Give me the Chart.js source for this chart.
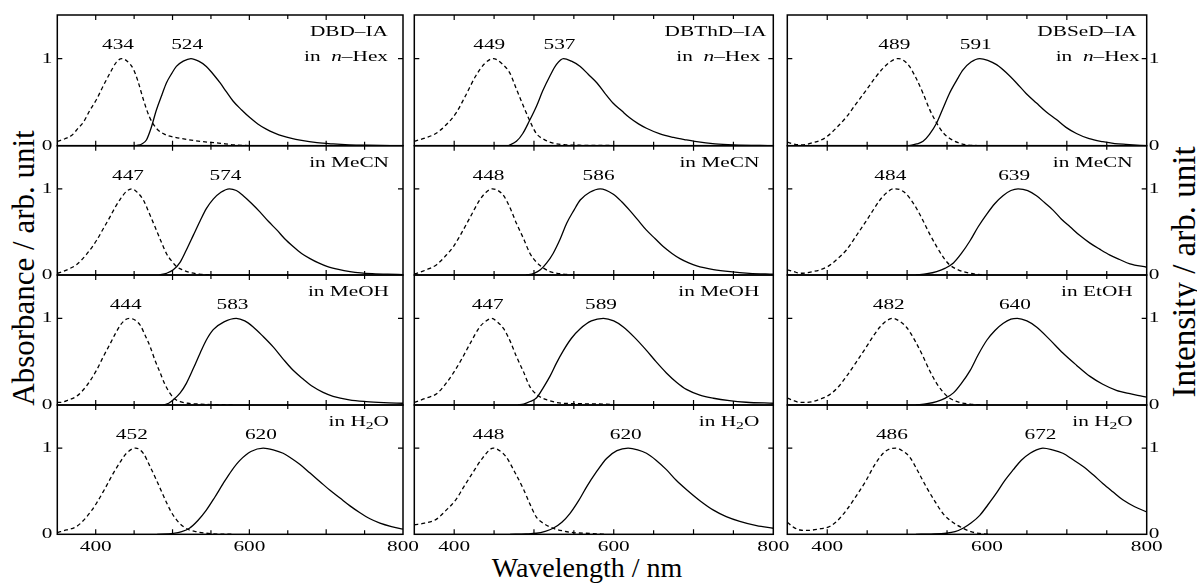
<!DOCTYPE html>
<html>
<head>
<meta charset="utf-8">
<script src="https://cdn.jsdelivr.net/npm/chart.js@4.4.0/dist/chart.umd.min.js"></script>
<style>
  body { margin: 0; background: #fff; }
  #wrap { position: relative; width: 1197px; height: 583px; overflow: hidden; }
  #wrap canvas { position: absolute; left: 0; top: 0; }
  .title { position: absolute; font-family: 'Liberation Serif', serif; color: #000; white-space: nowrap; line-height: 1; }
</style>
</head>
<body>
<div id="wrap">
  <div class="title" id="yLeft" style="font-size:31px; left:22.5px; top:268px; transform: translate(-50%,-50%) rotate(-90deg);">Absorbance / arb. unit</div>
  <div class="title" id="yRight" style="font-size:33px; left:1184px; top:272px; transform: translate(-50%,-50%) rotate(-90deg);">Intensity / arb. unit</div>
  <div class="title" id="xTitle" style="font-size:28px; left:587px; top:568px; transform: translate(-50%,-50%);">Wavelength / nm</div>
</div>
<script>
// Panel text
const compounds = ["DBD–IA", "DBThD–IA", "DBSeD–IA"];
const solvents = [
  ["n–Hex", "MeCN", "MeOH", "H2O"],
  ["n–Hex", "MeCN", "MeOH", "H2O"],
  ["n–Hex", "MeCN", "EtOH", "H2O"]
];
const absPeaks = [[434, 447, 444, 452], [449, 448, 447, 448], [489, 484, 482, 486]];
const emPeaks = [[524, 574, 583, 620], [537, 586, 589, 620], [591, 639, 640, 672]];
const xTickLabels = [400, 600, 800];
const yTickLabels = [0, 1];

// Absorption (dashed) and emission (solid) curves, [nm, normalised value]
// DBD-IA
const dbdHexAbs = [[350,0.05],[360,0.08],[369,0.12],[377,0.2],[384,0.27],[392,0.4],[401,0.53],[410,0.69],[419,0.84],[427,0.96],[434,1.0],[441,0.97],[449,0.88],[455,0.74],[462,0.53],[470,0.33],[479,0.2],[490,0.13],[501,0.1],[520,0.07],[536,0.05],[560,0.03],[580,0.01],[600,0]];
const dbdHexEm = [[453,0],[460,0.02],[466,0.065],[472,0.2],[479,0.41],[486,0.58],[492,0.72],[499,0.83],[505,0.91],[514,0.97],[524,1.0],[534,0.97],[544,0.91],[553,0.82],[562,0.72],[570,0.62],[579,0.51],[590,0.41],[601,0.32],[611,0.25],[622,0.19],[633,0.145],[644,0.11],[655,0.085],[666,0.065],[688,0.035],[709,0.02],[730,0.01],[752,0.005],[800,0]];
const dbdMecnAbs = [[350,0.02],[354,0.03],[365,0.07],[375,0.12],[388,0.24],[401,0.4],[410,0.54],[419,0.68],[425,0.78],[432,0.88],[440,0.97],[447,1.0],[454,0.96],[462,0.87],[470,0.71],[479,0.52],[486,0.37],[492,0.25],[499,0.16],[505,0.1],[513,0.06],[522,0.03],[535,0.01],[553,0]];
const dbdMecnEm = [[483,0],[492,0.02],[501,0.06],[510,0.15],[518,0.29],[527,0.46],[536,0.63],[544,0.77],[553,0.88],[563,0.96],[574,1.0],[583,0.98],[592,0.92],[603,0.83],[614,0.73],[625,0.62],[636,0.52],[646,0.42],[657,0.33],[668,0.25],[679,0.19],[690,0.14],[701,0.1],[716,0.065],[731,0.04],[745,0.025],[760,0.016],[780,0.009],[800,0.005]];
const dbdMeohAbs = [[350,0.03],[354,0.03],[365,0.06],[375,0.1],[388,0.22],[401,0.4],[410,0.56],[419,0.71],[426,0.83],[432,0.92],[438,0.98],[444,1.0],[451,0.98],[458,0.92],[464,0.81],[471,0.67],[477,0.52],[484,0.37],[490,0.24],[497,0.13],[503,0.07],[510,0.04],[520,0.02],[536,0.01],[579,0]];
const dbdMeohEm = [[488,0],[495,0.02],[501,0.06],[510,0.14],[518,0.25],[527,0.42],[536,0.6],[544,0.75],[553,0.87],[567,0.96],[583,1.0],[594,0.97],[605,0.9],[618,0.79],[631,0.67],[644,0.53],[657,0.4],[670,0.3],[683,0.21],[696,0.145],[709,0.1],[730,0.06],[752,0.04],[775,0.028],[800,0.02]];
const dbdWaterAbs = [[350,0.02],[362,0.05],[375,0.09],[388,0.2],[401,0.36],[412,0.53],[423,0.71],[432,0.84],[440,0.94],[452,1.0],[462,0.94],[470,0.8],[479,0.63],[488,0.45],[497,0.28],[505,0.17],[514,0.09],[522,0.05],[531,0.03],[553,0.005],[580,0]];
const dbdWaterEm = [[480,0],[501,0.01],[512,0.03],[522,0.07],[533,0.16],[544,0.28],[555,0.43],[566,0.59],[577,0.74],[588,0.86],[602,0.96],[618,1.0],[631,0.98],[644,0.94],[655,0.88],[666,0.81],[679,0.71],[692,0.61],[705,0.51],[718,0.42],[731,0.33],[744,0.25],[757,0.18],[770,0.13],[785,0.09],[800,0.06]];
// DBThD-IA
const dbthdHexAbs = [[350,0.05],[364,0.09],[377,0.14],[390,0.24],[402,0.37],[414,0.57],[427,0.8],[438,0.94],[449,1.0],[460,0.94],[470,0.83],[478,0.65],[487,0.45],[495,0.28],[503,0.14],[513,0.07],[524,0.03],[540,0.01],[557,0.005],[690,0]];
const dbthdHexEm = [[468,0],[478,0.05],[486,0.14],[494,0.28],[503,0.45],[511,0.63],[520,0.8],[528,0.93],[537,1.0],[547,0.97],[558,0.91],[568,0.82],[579,0.72],[589,0.6],[599,0.49],[610,0.4],[620,0.32],[631,0.25],[641,0.2],[658,0.135],[675,0.095],[690,0.068],[704,0.046],[727,0.022],[750,0.01],[800,0]];
const dbthdMecnAbs = [[350,0.01],[353,0.02],[365,0.06],[378,0.12],[389,0.22],[399,0.33],[410,0.5],[420,0.67],[432,0.87],[440,0.96],[448,1.0],[455,0.98],[462,0.92],[470,0.78],[478,0.6],[487,0.42],[495,0.25],[503,0.15],[512,0.08],[520,0.04],[529,0.02],[545,0.005],[557,0]];
const dbthdMecnEm = [[490,0],[500,0.02],[508,0.06],[516,0.14],[524,0.25],[533,0.42],[541,0.6],[550,0.75],[558,0.87],[570,0.96],[583,1.0],[599,0.94],[610,0.85],[620,0.75],[631,0.63],[641,0.52],[652,0.42],[662,0.33],[673,0.25],[683,0.19],[694,0.14],[704,0.105],[725,0.063],[746,0.038],[770,0.02],[800,0.01]];
const dbthdMeohAbs = [[350,0.03],[353,0.04],[365,0.08],[378,0.13],[389,0.24],[399,0.37],[410,0.54],[420,0.71],[432,0.9],[440,0.97],[447,1.0],[454,0.96],[462,0.88],[470,0.74],[478,0.56],[487,0.38],[495,0.21],[505,0.11],[516,0.06],[537,0.02],[591,0.01],[600,0]];
const dbthdMeohEm = [[480,0],[487,0.01],[495,0.04],[503,0.08],[511,0.19],[520,0.33],[528,0.48],[537,0.63],[547,0.77],[558,0.88],[572,0.97],[587,1.0],[600,0.97],[612,0.9],[626,0.78],[641,0.63],[653,0.5],[666,0.37],[679,0.26],[691,0.18],[708,0.115],[725,0.078],[745,0.05],[766,0.032],[800,0.02]];
const dbthdWaterAbs = [[350,0.11],[363,0.13],[377,0.17],[390,0.28],[402,0.4],[412,0.55],[423,0.71],[436,0.89],[449,1.0],[457,0.97],[465,0.9],[476,0.72],[487,0.52],[495,0.35],[503,0.2],[513,0.12],[524,0.07],[536,0.04],[549,0.02],[570,0.01],[591,0]];
const dbthdWaterEm = [[470,0],[490,0.005],[503,0.012],[514,0.035],[524,0.07],[535,0.14],[545,0.24],[556,0.39],[566,0.55],[578,0.72],[591,0.88],[604,0.97],[618,1.0],[630,0.98],[641,0.94],[653,0.86],[666,0.75],[678,0.63],[691,0.52],[708,0.39],[725,0.28],[741,0.205],[758,0.15],[779,0.1],[800,0.07]];
// DBSeD-IA
const dbsedHexAbs = [[350,0.04],[358,0.02],[366,0.01],[374,0.015],[382,0.035],[391,0.06],[399,0.1],[411,0.2],[424,0.33],[436,0.48],[449,0.64],[460,0.78],[470,0.89],[480,0.97],[489,1.0],[497,0.97],[503,0.91],[511,0.78],[520,0.6],[528,0.42],[537,0.26],[545,0.15],[553,0.085],[564,0.035],[574,0.01],[595,0]];
const dbsedHexEm = [[503,0],[512,0.02],[520,0.05],[528,0.13],[537,0.26],[545,0.43],[553,0.6],[562,0.75],[570,0.87],[580,0.96],[591,1.0],[601,0.98],[612,0.93],[624,0.84],[637,0.72],[649,0.6],[662,0.49],[674,0.39],[687,0.3],[699,0.21],[712,0.14],[728,0.08],[745,0.046],[760,0.025],[774,0.015],[800,0]];
const dbsedMecnAbs = [[350,0.06],[358,0.04],[366,0.02],[374,0.025],[382,0.04],[391,0.06],[401,0.1],[412,0.18],[424,0.29],[436,0.45],[449,0.63],[458,0.76],[466,0.87],[474,0.95],[483,1.0],[491,0.99],[499,0.94],[510,0.8],[520,0.63],[528,0.48],[537,0.33],[545,0.21],[553,0.12],[564,0.06],[574,0.03],[585,0.01],[595,0]];
const dbsedMecnEm = [[511,0],[525,0.015],[537,0.04],[548,0.08],[558,0.14],[568,0.25],[579,0.4],[589,0.56],[600,0.71],[610,0.83],[620,0.92],[630,0.98],[639,1.0],[651,0.98],[662,0.92],[672,0.84],[683,0.75],[693,0.65],[704,0.56],[716,0.46],[729,0.37],[741,0.3],[754,0.23],[766,0.18],[779,0.13],[800,0.09]];
const dbsedEtohAbs = [[350,0.08],[358,0.05],[366,0.03],[374,0.03],[382,0.04],[392,0.07],[403,0.12],[413,0.2],[424,0.33],[436,0.49],[449,0.67],[458,0.8],[466,0.9],[474,0.97],[482,1.0],[490,0.97],[499,0.9],[510,0.74],[520,0.56],[528,0.4],[537,0.25],[545,0.15],[553,0.08],[566,0.03],[579,0.01],[595,0]];
const dbsedEtohEm = [[511,0],[525,0.015],[537,0.04],[548,0.08],[558,0.14],[568,0.25],[579,0.4],[589,0.58],[600,0.75],[610,0.86],[620,0.94],[630,0.99],[638,1.0],[650,0.97],[662,0.9],[678,0.76],[695,0.6],[712,0.46],[729,0.33],[745,0.24],[762,0.17],[779,0.13],[795,0.1],[800,0.09]];
const dbsedWaterAbs = [[350,0.14],[358,0.08],[366,0.05],[374,0.045],[382,0.05],[392,0.065],[403,0.09],[413,0.16],[424,0.28],[436,0.44],[449,0.63],[459,0.8],[470,0.94],[478,0.99],[486,1.0],[494,0.97],[503,0.9],[513,0.74],[524,0.55],[535,0.38],[545,0.24],[557,0.14],[570,0.07],[580,0.03],[591,0.01],[603,0]];
const dbsedWaterEm = [[511,0],[530,0.003],[549,0.012],[560,0.03],[570,0.07],[580,0.13],[591,0.22],[601,0.34],[612,0.48],[622,0.62],[633,0.75],[643,0.86],[654,0.94],[662,0.98],[670,1.0],[682,0.98],[695,0.94],[707,0.87],[720,0.79],[733,0.69],[745,0.59],[758,0.49],[770,0.4],[785,0.32],[800,0.26]];

const absCurves = [
  [dbdHexAbs, dbdMecnAbs, dbdMeohAbs, dbdWaterAbs],
  [dbthdHexAbs, dbthdMecnAbs, dbthdMeohAbs, dbthdWaterAbs],
  [dbsedHexAbs, dbsedMecnAbs, dbsedEtohAbs, dbsedWaterAbs]
];
const emCurves = [
  [dbdHexEm, dbdMecnEm, dbdMeohEm, dbdWaterEm],
  [dbthdHexEm, dbthdMecnEm, dbthdMeohEm, dbthdWaterEm],
  [dbsedHexEm, dbsedMecnEm, dbsedEtohEm, dbsedWaterEm]
];

// Layout (pixel frame of each panel)
const W = 1197, H = 583;
const colLeft = [57.3, 414.3, 787.3];
const colRight = [403, 773.3, 1146.7];
const rowTop = [15, 145.7, 275, 405];
const rowBottom = [145.7, 275, 405, 534.3];

const FONT = "'Liberation Serif', 'Times New Roman', serif";
const SX = 1.42; // small text is stretched horizontally in the figure

function drawText(ctx, str, x, y, align, size, sx) {
  ctx.save();
  ctx.font = size + "px " + FONT;
  ctx.translate(x, y);
  ctx.scale(sx, 1);
  ctx.textAlign = align;
  ctx.textBaseline = "middle";
  ctx.fillText(str, 0, 0);
  ctx.restore();
}

function solventParts(s) {
  if (s === "n–Hex") return [{ t: "in  " }, { t: "n", it: true }, { t: "–Hex" }];
  if (s === "H2O") return [{ t: "in H" }, { t: "2", sub: true }, { t: "O" }];
  return [{ t: "in " + s }];
}

// right-aligned text made of several styled parts
function drawRich(ctx, parts, xRight, y, size, sx) {
  const fontOf = p => (p.it ? "italic " : "") + (p.sub ? Math.round(size * 0.72) : size) + "px " + FONT;
  const widths = parts.map(p => { ctx.font = fontOf(p); return ctx.measureText(p.t).width * sx; });
  let x = xRight - widths.reduce((a, b) => a + b, 0);
  parts.forEach((p, i) => {
    ctx.save();
    ctx.font = fontOf(p);
    ctx.translate(x, y + (p.sub ? 4 : 0));
    ctx.scale(sx, 1);
    ctx.textAlign = "left";
    ctx.textBaseline = "middle";
    ctx.fillText(p.t, 0, 0);
    ctx.restore();
    x += widths[i];
  });
}

function panelPlugin(c, r) {
  return {
    id: "panel" + c + r,
    afterDraw(chart) {
      const ctx = chart.ctx;
      const a = chart.chartArea;
      const xs = chart.scales.x, ys = chart.scales.y;
      ctx.save();
      ctx.fillStyle = "#000";
      ctx.strokeStyle = "#000";

      // frame
      ctx.lineWidth = 1.5;
      ctx.strokeRect(a.left, a.top, a.right - a.left, a.bottom - a.top);

      // inside ticks
      ctx.lineWidth = 1.2;
      ctx.beginPath();
      for (let v = 400; v < 800; v += 50) {
        const px = xs.getPixelForValue(v);
        const len = v % 100 === 0 ? 5 : 4;
        ctx.moveTo(px, a.bottom); ctx.lineTo(px, a.bottom - len);
        ctx.moveTo(px, a.top); ctx.lineTo(px, a.top + len);
      }
      const py1 = ys.getPixelForValue(1);
      ctx.moveTo(a.left, py1); ctx.lineTo(a.left + 5, py1);
      ctx.moveTo(a.right, py1); ctx.lineTo(a.right - 5, py1);
      ctx.stroke();

      // y tick labels
      yTickLabels.forEach(v => {
        const py = ys.getPixelForValue(v);
        if (c === 0) drawText(ctx, String(v), a.left - 5, py, "right", 15, SX);
        if (c === 2) drawText(ctx, String(v), a.right + 2, py, "left", 15, SX);
      });

      // x tick labels on the bottom row
      if (r === 3) {
        xTickLabels.forEach(v => {
          drawText(ctx, String(v), xs.getPixelForValue(v), a.bottom + 12.5, "center", 15, SX);
        });
      }

      // peak labels
      const ly = ys.getPixelForValue(1.15);
      drawText(ctx, String(absPeaks[c][r]), xs.getPixelForValue(absPeaks[c][r] - 5), ly, "center", 15, SX);
      drawText(ctx, String(emPeaks[c][r]), xs.getPixelForValue(emPeaks[c][r] - 5), ly, "center", 15, SX);

      // compound / solvent labels
      const namePad = [15, 7, 10];
      const hexPad = [15, 13, 7];
      if (r === 0) {
        drawText(ctx, compounds[c], a.right - namePad[c], a.top + 17, "right", 15, SX);
        drawRich(ctx, solventParts(solvents[c][r]), a.right - hexPad[c], a.top + 42, 15, SX);
      } else {
        drawRich(ctx, solventParts(solvents[c][r]), a.right - 14, a.top + 17.5, 15, SX);
      }
      ctx.restore();
    }
  };
}

const toXY = pts => pts.map(p => ({ x: p[0], y: p[1] }));
const wrap = document.getElementById("wrap");

for (let c = 0; c < 3; c++) {
  for (let r = 0; r < 4; r++) {
    const canvas = document.createElement("canvas");
    canvas.width = W; canvas.height = H;
    canvas.style.width = W + "px"; canvas.style.height = H + "px";
    wrap.appendChild(canvas);
    new Chart(canvas.getContext("2d"), {
      type: "line",
      data: {
        datasets: [
          { data: toXY(absCurves[c][r]), borderColor: "#000", borderWidth: 1.3, borderDash: [4, 3], pointRadius: 0, cubicInterpolationMode: "monotone", fill: false },
          { data: toXY(emCurves[c][r]), borderColor: "#000", borderWidth: 1.3, pointRadius: 0, cubicInterpolationMode: "monotone", fill: false }
        ]
      },
      options: {
        responsive: false,
        animation: false,
        devicePixelRatio: 1,
        layout: { padding: { left: colLeft[c], top: rowTop[r], right: W - colRight[c], bottom: H - rowBottom[r] } },
        scales: {
          x: { type: "linear", min: 350, max: 800, display: false },
          y: { min: 0, max: 1.5, display: false }
        },
        plugins: { legend: { display: false }, tooltip: { enabled: false } },
        events: []
      },
      plugins: [panelPlugin(c, r)]
    });
  }
}
</script>
</body>
</html>
